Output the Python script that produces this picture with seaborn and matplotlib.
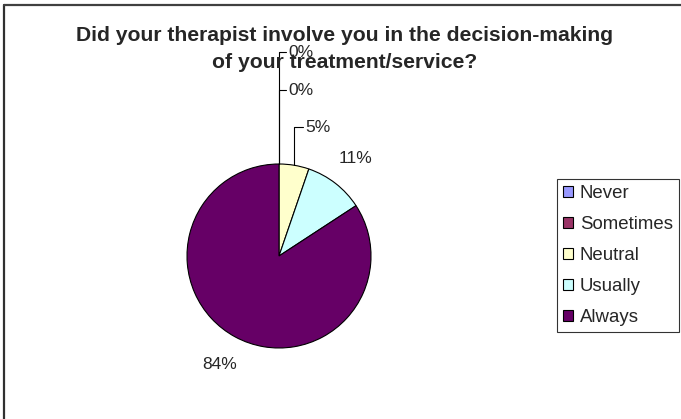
import matplotlib.pyplot as plt
import seaborn as sns
import numpy as np
from matplotlib.lines import Line2D

# Survey answers (response counts)
categories = ["Never", "Sometimes", "Neutral", "Usually", "Always"]
counts = [0, 0, 1, 2, 16]
colors = ["#9999FF", "#993366", "#FFFFCC", "#CCFFFF", "#660066"]
title = "Did your therapist involve you in the decision-making\nof your treatment/service?"

sns.set_style("white")
plt.rcParams["font.family"] = ["Liberation Sans", "DejaVu Sans"]

W, H = 681, 419
fig = plt.figure(figsize=(W / 100, H / 100), dpi=100)

# chart-area border (only top and left edges visible in the crop)
fig.add_artist(Line2D([4 / W, 4 / W], [0, 1 - 5 / H], color="#303030", lw=1.6,
                      transform=fig.transFigure))
fig.add_artist(Line2D([4 / W, 1], [1 - 5 / H, 1 - 5 / H], color="#404040", lw=1.6,
                      transform=fig.transFigure))

fig.text(345 / W, 1 - 49 / H, title, ha="center", va="center", fontsize=15.2,
         fontweight="bold", linespacing=1.48)

# pie: centre (279, 256) px, radius 92 px
cx, cy, r = 279, 256, 92
ax = fig.add_axes([(cx - r) / W, (H - cy - r) / H, 2 * r / W, 2 * r / H])
wedges, _ = ax.pie(counts, colors=colors, startangle=90, counterclock=False,
                   wedgeprops=dict(edgecolor="black", linewidth=0.8))
ax.set_xlim(-1, 1)
ax.set_ylim(-1, 1)
ax.set_aspect("equal")
ax.axis("off")

total = sum(counts)
# stacked positions for the tiny slices (in pie radius units)
stacked = {"Never": (0.098, 2.217), "Sometimes": (0.098, 1.804), "Neutral": (0.283, 1.402)}

for w, name, c in zip(wedges, categories, counts):
    txt = f"{c / total * 100:.0f}%"
    mid = np.deg2rad((w.theta1 + w.theta2) / 2)
    if name in stacked:
        lx, ly = stacked[name]
        x0, y0 = np.cos(mid), np.sin(mid)
        ax.plot([x0, x0, lx - 0.025], [y0, ly, ly], color="black", lw=0.8,
                clip_on=False)
        ax.text(lx, ly, txt, ha="left", va="center", fontsize=12.5)
    else:
        ax.text(1.36 * np.cos(mid), 1.34 * np.sin(mid), txt, ha="center",
                va="center", fontsize=12.5)

leg = fig.legend(wedges, categories, loc="upper left",
                 bbox_to_anchor=(557 / W, 1 - 179 / H), fontsize=13.4,
                 frameon=True, fancybox=False, edgecolor="black",
                 handlelength=0.55, handleheight=0.55, handletextpad=0.36,
                 labelspacing=0.75, borderpad=0.32, borderaxespad=0)
leg.get_frame().set_linewidth(0.8)

fig.savefig("out.png", dpi=100)
